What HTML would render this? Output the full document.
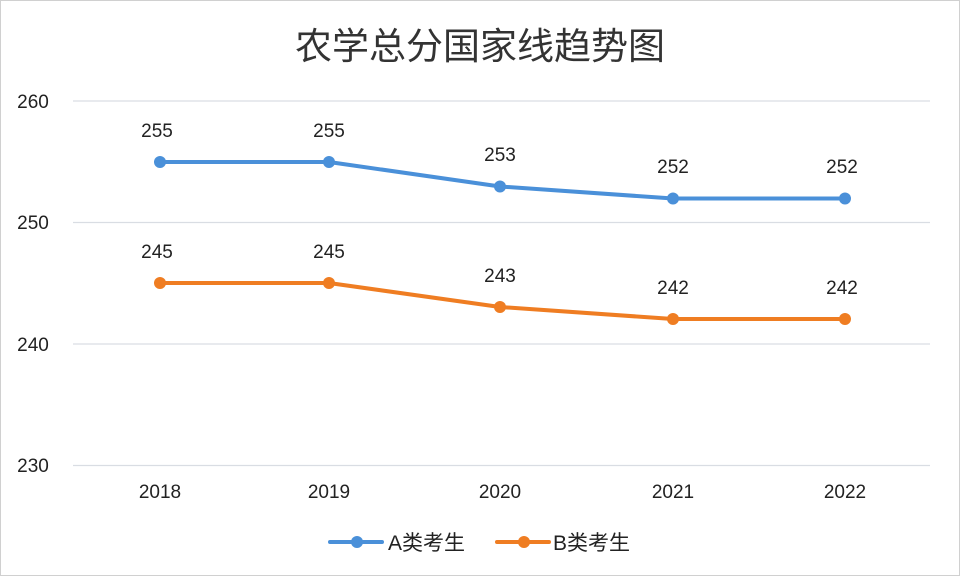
<!DOCTYPE html>
<html><head><meta charset="utf-8"><style>
body{margin:0;background:#fff}
svg{display:block}
text{font-family:"Liberation Sans","Noto Sans CJK SC",sans-serif;fill:#222}
</style></head><body>
<svg width="960" height="576" viewBox="0 0 960 576">
<rect x="0.5" y="0.5" width="959" height="575" fill="#fff" stroke="#d0d0d0"/>
<text x="480" y="59" font-size="37" text-anchor="middle" style="fill:#333">农学总分国家线趋势图</text>
<g stroke="#d9dde3" stroke-width="1.2">
<line x1="73" y1="101" x2="930" y2="101"/>
<line x1="73" y1="222.5" x2="930" y2="222.5"/>
<line x1="73" y1="344" x2="930" y2="344"/>
<line x1="73" y1="465.5" x2="930" y2="465.5"/>
</g>
<g font-size="19" text-anchor="middle">
<text x="33" y="108">260</text><text x="33" y="229">250</text><text x="33" y="351">240</text><text x="33" y="472">230</text>
<text x="160" y="498">2018</text><text x="329" y="498">2019</text><text x="500" y="498">2020</text><text x="673" y="498">2021</text><text x="845" y="498">2022</text>
</g>
<polyline points="160,162 329,162 500,186.5 673,198.5 845,198.5" fill="none" stroke="#4a90d9" stroke-width="4" stroke-linejoin="round"/>
<polyline points="160,283 329,283 500,307 673,319 845,319" fill="none" stroke="#ef7d22" stroke-width="4" stroke-linejoin="round"/>
<g fill="#4a90d9"><circle cx="160" cy="162" r="6"/><circle cx="329" cy="162" r="6"/><circle cx="500" cy="186.5" r="6"/><circle cx="673" cy="198.5" r="6"/><circle cx="845" cy="198.5" r="6"/></g>
<g fill="#ef7d22"><circle cx="160" cy="283" r="6"/><circle cx="329" cy="283" r="6"/><circle cx="500" cy="307" r="6"/><circle cx="673" cy="319" r="6"/><circle cx="845" cy="319" r="6"/></g>
<g font-size="19" text-anchor="middle">
<text x="157" y="137">255</text><text x="329" y="137">255</text><text x="500" y="161">253</text><text x="673" y="173">252</text><text x="842" y="173">252</text>
<text x="157" y="258">245</text><text x="329" y="258">245</text><text x="500" y="282">243</text><text x="673" y="294">242</text><text x="842" y="294">242</text>
</g>
<line x1="330" y1="542" x2="382" y2="542" stroke="#4a90d9" stroke-width="4" stroke-linecap="round"/>
<circle cx="357" cy="542" r="6" fill="#4a90d9"/>
<text x="388" y="550" font-size="21">A类考生</text>
<line x1="497" y1="542" x2="549" y2="542" stroke="#ef7d22" stroke-width="4" stroke-linecap="round"/>
<circle cx="524" cy="542" r="6" fill="#ef7d22"/>
<text x="553" y="550" font-size="21">B类考生</text>
</svg>
</body></html>
